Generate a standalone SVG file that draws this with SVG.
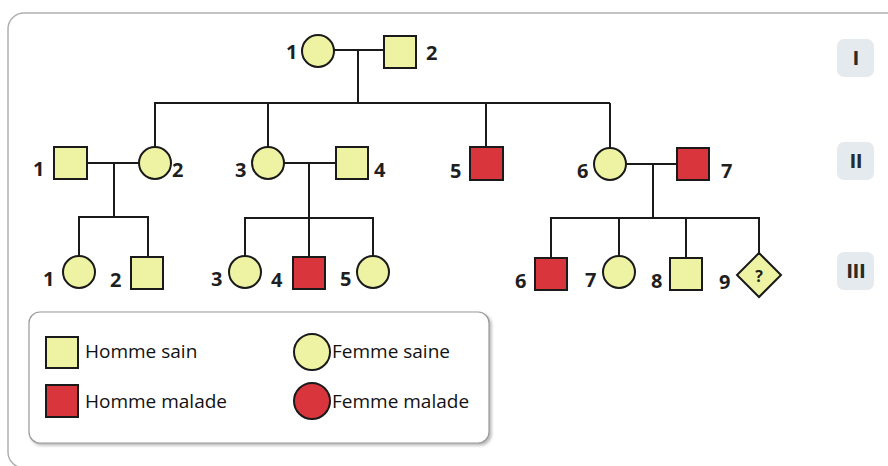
<svg xmlns="http://www.w3.org/2000/svg" width="888" height="466" viewBox="0 0 888 466">
  <style>
    .sain { fill: #eef3a3; stroke: #1a1a1a; stroke-width: 2; }
    .malade { fill: #d8353d; stroke: #1a1a1a; stroke-width: 2; }
    .lines line { stroke: #1a1a1a; stroke-width: 2; fill: none; }
    .num { font-family: "Open Sans", "DejaVu Sans", sans-serif; font-weight: 700; font-size: 20px; fill: #1f1f1f; }
    .leg { font-family: "Open Sans", "DejaVu Sans", sans-serif; font-size: 19px; fill: #111; }
    .gen { font-family: "DejaVu Sans Condensed", "DejaVu Sans", sans-serif; font-weight: 700; font-size: 19px; fill: #2a2a2a; text-anchor: middle; }
    .genbox { fill: #e4eaee; }
  </style>
  <defs>
    <filter id="shadow" x="-5%" y="-5%" width="110%" height="115%">
      <feDropShadow dx="2" dy="2" stdDeviation="1.5" flood-color="#888" flood-opacity="0.6"/>
    </filter>
  </defs>

  <rect width="888" height="466" fill="#ffffff"/>
  <!-- outer frame -->
  <rect x="8" y="13" width="900" height="455" rx="16" fill="none" stroke="#b0b0b0" stroke-width="1.5"/>

  <!-- generation markers -->
  <g id="gen-I"><rect class="genbox" x="837" y="39" width="37" height="38" rx="7"/><text class="gen" x="856" y="65">I</text></g>
  <g id="gen-II"><rect class="genbox" x="837" y="142" width="37" height="38" rx="7"/><text class="gen" x="856" y="168">II</text></g>
  <g id="gen-III"><rect class="genbox" x="837" y="252" width="37" height="38" rx="7"/><text class="gen" x="856" y="278">III</text></g>

  <!-- connectors -->
  <g id="connectors" class="lines">
    <!-- I-1 x I-2 -->
    <line x1="334" y1="50" x2="384" y2="50"/>
    <line x1="358" y1="50" x2="358" y2="103"/>
    <line x1="154" y1="103" x2="610" y2="103"/>
    <line x1="155" y1="103" x2="155" y2="147"/>
    <line x1="268" y1="103" x2="268" y2="147"/>
    <line x1="486" y1="103" x2="486" y2="147"/>
    <line x1="610" y1="103" x2="610" y2="148"/>
    <!-- II-1 x II-2 -->
    <line x1="87" y1="163" x2="139" y2="163"/>
    <line x1="114" y1="163" x2="114" y2="217"/>
    <line x1="78" y1="217" x2="149" y2="217"/>
    <line x1="79" y1="217" x2="79" y2="256"/>
    <line x1="148" y1="217" x2="148" y2="257"/>
    <!-- II-3 x II-4 -->
    <line x1="284" y1="163" x2="336" y2="163"/>
    <line x1="309" y1="163" x2="309" y2="218"/>
    <line x1="244" y1="218" x2="374" y2="218"/>
    <line x1="245" y1="218" x2="245" y2="256"/>
    <line x1="309" y1="218" x2="309" y2="257"/>
    <line x1="373" y1="218" x2="373" y2="256"/>
    <!-- II-6 x II-7 -->
    <line x1="626" y1="164" x2="677" y2="164"/>
    <line x1="653" y1="164" x2="653" y2="218"/>
    <line x1="550" y1="218" x2="760" y2="218"/>
    <line x1="551" y1="218" x2="551" y2="258"/>
    <line x1="619" y1="218" x2="619" y2="256"/>
    <line x1="686" y1="218" x2="686" y2="258"/>
    <line x1="759" y1="218" x2="759" y2="253"/>
  </g>

  <!-- generation I -->
  <g id="I-1"><circle class="sain" cx="318" cy="51" r="16"/><text class="num" x="286" y="59">1</text></g>
  <g id="I-2"><rect class="sain" x="384" y="36" width="32" height="32"/><text class="num" x="426" y="60">2</text></g>

  <!-- generation II -->
  <g id="II-1"><rect class="sain" x="54" y="147" width="33" height="32"/><text class="num" x="33" y="176">1</text></g>
  <g id="II-2"><circle class="sain" cx="155" cy="163" r="16"/><text class="num" x="172" y="177">2</text></g>
  <g id="II-3"><circle class="sain" cx="268" cy="163" r="16"/><text class="num" x="235" y="177">3</text></g>
  <g id="II-4"><rect class="sain" x="336" y="147" width="32" height="32"/><text class="num" x="374" y="177">4</text></g>
  <g id="II-5"><rect class="malade" x="470" y="147" width="33" height="33"/><text class="num" x="450" y="178">5</text></g>
  <g id="II-6"><circle class="sain" cx="610" cy="164" r="16"/><text class="num" x="577" y="178">6</text></g>
  <g id="II-7"><rect class="malade" x="677" y="148" width="32" height="32"/><text class="num" x="721" y="178">7</text></g>

  <!-- generation III -->
  <g id="III-1"><circle class="sain" cx="79" cy="272" r="16"/><text class="num" x="43" y="286">1</text></g>
  <g id="III-2"><rect class="sain" x="131" y="257" width="32" height="32"/><text class="num" x="110" y="287">2</text></g>
  <g id="III-3"><circle class="sain" cx="245" cy="272" r="16"/><text class="num" x="211" y="286">3</text></g>
  <g id="III-4"><rect class="malade" x="293" y="257" width="32" height="32"/><text class="num" x="271" y="287">4</text></g>
  <g id="III-5"><circle class="sain" cx="373" cy="272" r="16"/><text class="num" x="340" y="286">5</text></g>
  <g id="III-6"><rect class="malade" x="535" y="258" width="32" height="32"/><text class="num" x="515" y="288">6</text></g>
  <g id="III-7"><circle class="sain" cx="619" cy="272" r="16"/><text class="num" x="585" y="287">7</text></g>
  <g id="III-8"><rect class="sain" x="670" y="258" width="32" height="32"/><text class="num" x="651" y="288">8</text></g>
  <g id="III-9">
    <polygon class="sain" points="759,253 781,275 759,297 737,275"/>
    <text class="num" x="759" y="282" text-anchor="middle" style="font-size:16px">?</text>
    <text class="num" x="719" y="289">9</text>
  </g>

  <!-- legend -->
  <g id="legend">
    <rect x="29" y="312" width="460" height="131" rx="11" fill="#ffffff" stroke="#9a9a9a" stroke-width="1.2" filter="url(#shadow)"/>
    <rect class="sain" x="46" y="337" width="32" height="31"/>
    <text class="leg" x="85" y="358">Homme sain</text>
    <rect class="malade" x="46" y="385" width="32" height="32"/>
    <text class="leg" x="85" y="408">Homme malade</text>
    <circle class="sain" cx="312" cy="352" r="18"/>
    <text class="leg" x="332" y="358">Femme saine</text>
    <circle class="malade" cx="312" cy="401" r="18"/>
    <text class="leg" x="332" y="408">Femme malade</text>
  </g>
</svg>
